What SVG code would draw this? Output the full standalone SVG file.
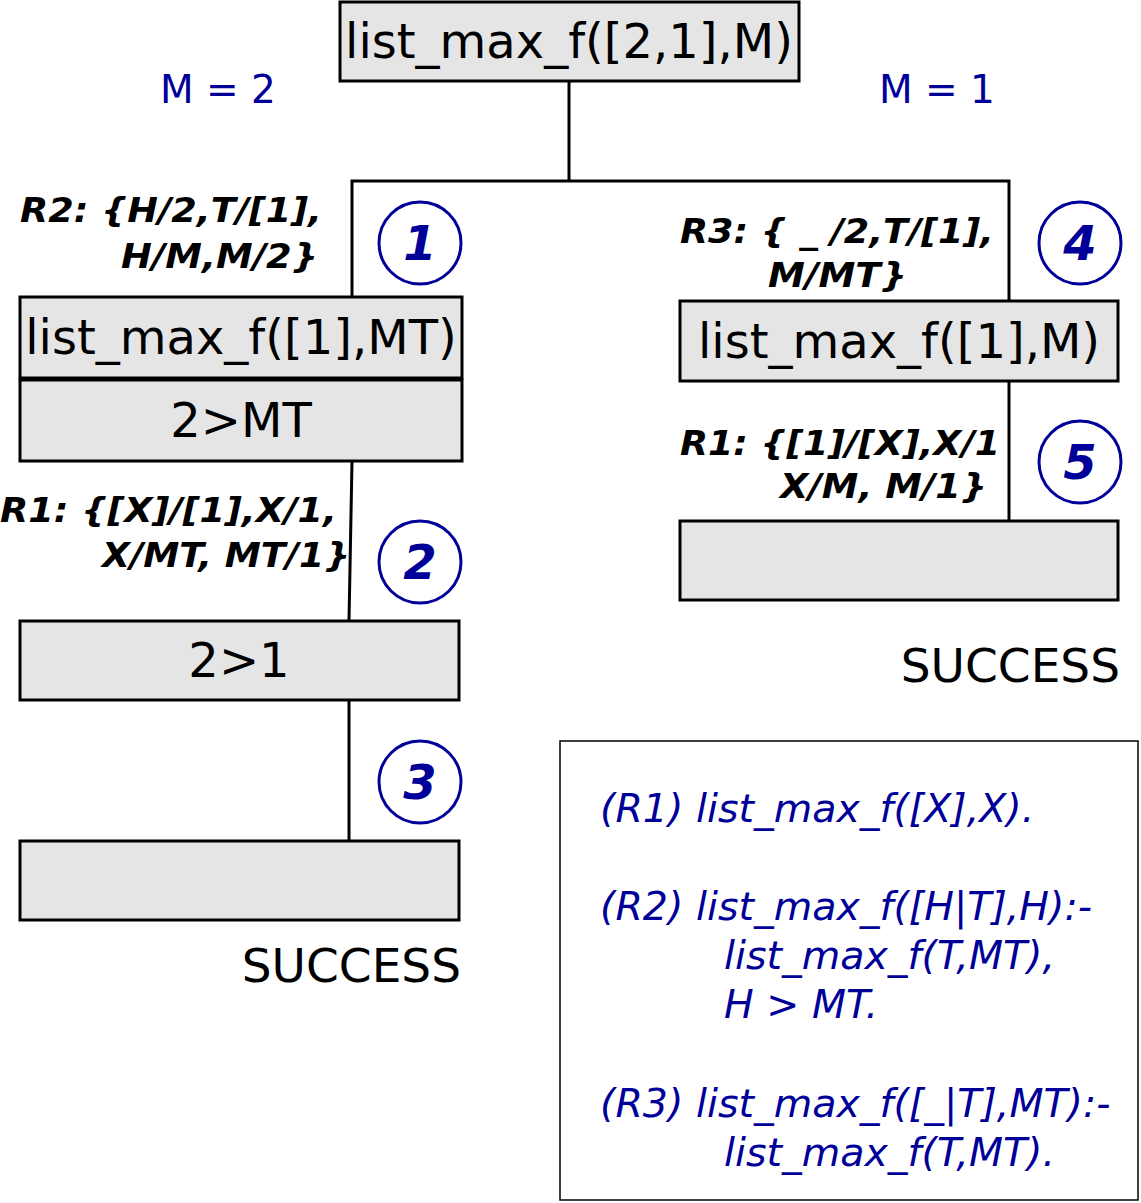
<svg xmlns="http://www.w3.org/2000/svg" width="1141" height="1203" viewBox="0 0 1141 1203">
<style>
.box{fill:#e5e5e5;stroke:#000;stroke-width:3}
.bt{font-family:"DejaVu Sans",sans-serif;font-size:48px;fill:#000;text-anchor:middle}
.suc{font-family:"DejaVu Sans",sans-serif;font-size:47px;fill:#000;text-anchor:end}
.mv{font-family:"DejaVu Sans",sans-serif;font-size:39px;fill:#000099}
.lbl{font-family:"DejaVu Sans",sans-serif;font-size:33px;font-weight:bold;font-style:italic;fill:#000}
.cir{fill:#fff;stroke:#000099;stroke-width:3}
.num{font-family:"DejaVu Sans",sans-serif;font-size:48px;font-weight:bold;font-style:italic;fill:#000099;text-anchor:middle}
.rule{font-family:"DejaVu Sans",sans-serif;font-size:39.5px;font-style:italic;fill:#000099}
.edge{stroke:#000;stroke-width:3;fill:none}
</style>
<g id="connectors">
<polyline class="edge" points="569,81 569,181"/>
<polyline class="edge" points="352,297 352,181 1009,181 1009,301"/>
<line class="edge" x1="352" y1="461" x2="349" y2="621"/>
<line class="edge" x1="349" y1="700" x2="349" y2="841"/>
<line class="edge" x1="1009" y1="381" x2="1009" y2="521"/>
</g>
<g id="root"><rect class="box" x="340" y="2" width="459" height="79"/><text class="bt" x="569" y="58">list_max_f([2,1],M)</text></g>
<g id="m2"><text class="mv" x="160" y="103">M = 2</text></g>
<g id="m1"><text class="mv" x="879" y="103">M = 1</text></g>
<g id="label-r2"><text class="lbl" x="20" y="222" textLength="302" lengthAdjust="spacingAndGlyphs">R2: {H/2,T/[1],</text><text class="lbl" x="121" y="268" textLength="197" lengthAdjust="spacingAndGlyphs">H/M,M/2}</text></g>
<g id="step1"><circle class="cir" cx="420" cy="243" r="41"/><text class="num" x="420" y="260">1</text></g>
<g id="n-left1"><rect class="box" x="20" y="297" width="442" height="81"/><text class="bt" x="241" y="354">list_max_f([1],MT)</text></g>
<g id="n-left2"><rect class="box" x="20" y="380" width="442" height="81"/><text class="bt" x="241" y="437">2&gt;MT</text></g>
<g id="label-r1a"><text class="lbl" x="0" y="522" textLength="337" lengthAdjust="spacingAndGlyphs">R1: {[X]/[1],X/1,</text><text class="lbl" x="102" y="567" textLength="248" lengthAdjust="spacingAndGlyphs">X/MT, MT/1}</text></g>
<g id="step2"><circle class="cir" cx="420" cy="562" r="41"/><text class="num" x="420" y="579">2</text></g>
<g id="n-left3"><rect class="box" x="20" y="621" width="439" height="79"/><text class="bt" x="239" y="677">2&gt;1</text></g>
<g id="step3"><circle class="cir" cx="420" cy="782" r="41"/><text class="num" x="420" y="799">3</text></g>
<g id="n-left4"><rect class="box" x="20" y="841" width="439" height="79"/></g>
<g id="success-left"><text class="suc" x="461" y="982">SUCCESS</text></g>
<g id="label-r3"><text class="lbl" x="680" y="243" textLength="314" lengthAdjust="spacingAndGlyphs">R3: { _ /2,T/[1],</text><text class="lbl" x="768" y="287" textLength="139" lengthAdjust="spacingAndGlyphs">M/MT}</text></g>
<g id="step4"><circle class="cir" cx="1080" cy="243" r="41"/><text class="num" x="1080" y="260">4</text></g>
<g id="n-right1"><rect class="box" x="680" y="301" width="438" height="80"/><text class="bt" x="899" y="358">list_max_f([1],M)</text></g>
<g id="label-r1b"><text class="lbl" x="680" y="455" textLength="320" lengthAdjust="spacingAndGlyphs">R1: {[1]/[X],X/1</text><text class="lbl" x="780" y="498" textLength="207" lengthAdjust="spacingAndGlyphs">X/M, M/1}</text></g>
<g id="step5"><circle class="cir" cx="1080" cy="462" r="41"/><text class="num" x="1080" y="479">5</text></g>
<g id="n-right2"><rect class="box" x="680" y="521" width="438" height="79"/></g>
<g id="success-right"><text class="suc" x="1120" y="682">SUCCESS</text></g>
<g id="rules">
<rect x="560" y="741" width="578" height="459" fill="#fff" stroke="#000" stroke-width="1.5"/>
<text class="rule" x="600" y="822">(R1) list_max_f([X],X).</text>
<text class="rule" x="600" y="920">(R2) list_max_f([H|T],H):-</text>
<text class="rule" x="724" y="969">list_max_f(T,MT),</text>
<text class="rule" x="724" y="1018">H &gt; MT.</text>
<text class="rule" x="600" y="1117">(R3) list_max_f([_|T],MT):-</text>
<text class="rule" x="724" y="1166">list_max_f(T,MT).</text>
</g>
</svg>
